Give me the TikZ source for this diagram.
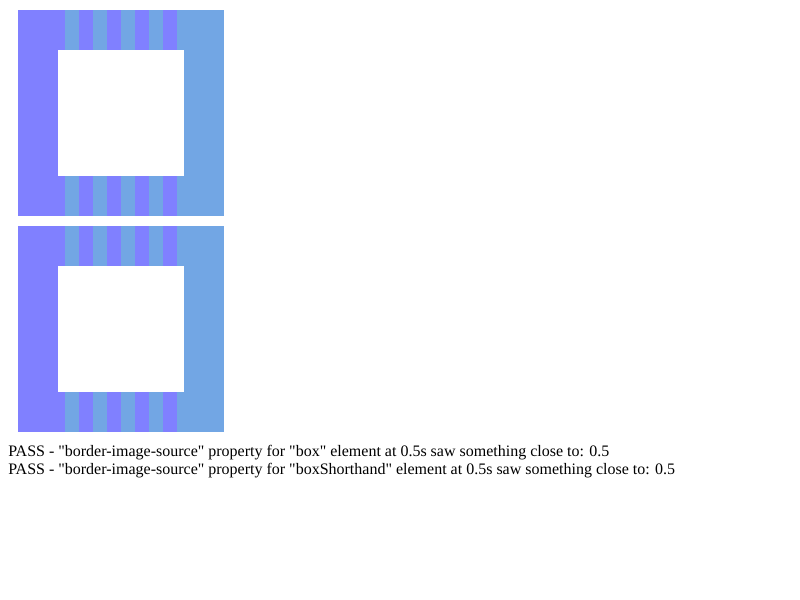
\documentclass[tikz,border=0pt]{standalone}
\usepackage{fontspec}
\newfontfamily\resultfont{Liberation Serif}
\definecolor{lilac}{RGB}{128,128,255}
\definecolor{skyblue}{RGB}{114,166,228}

\begin{document}
\begin{tikzpicture}[x=0.75pt, y=-0.75pt,
          purplepart/.style={fill=lilac, draw=none},
          bluepart/.style={fill=skyblue, draw=none},
          hole/.style={fill=white, draw=none},
          result/.style={anchor=base west, inner sep=0pt, font=\resultfont\fontsize{12pt}{14pt}\selectfont}
        ]
          \useasboundingbox (0,0) rectangle (800,600);

          % two bordered boxes, one above the other
          \foreach \top in {10,226} {
            \fill[purplepart] (18,\top) rectangle (65,\top+206);
            \fill[bluepart] (177,\top) rectangle (224,\top+206);
            % striped middle band
            \foreach \x in {65,93,121,149} {
              \fill[bluepart] (\x,\top) rectangle (\x+14,\top+206);
              \fill[purplepart] (\x+14,\top) rectangle (\x+28,\top+206);
            }
            % content area
            \fill[hole] (58,\top+40) rectangle (184,\top+166);
          }

          % test results
          \node[result] (first) at (8,456) {PASS - "border-image-source" property for "box" element at 0.5s saw something close to: 0.5};
          \node[result] (second) at (8,474) {PASS - "border-image-source" property for "boxShorthand" element at 0.5s saw something close to: 0.5};

        \end{tikzpicture}
\end{document}
